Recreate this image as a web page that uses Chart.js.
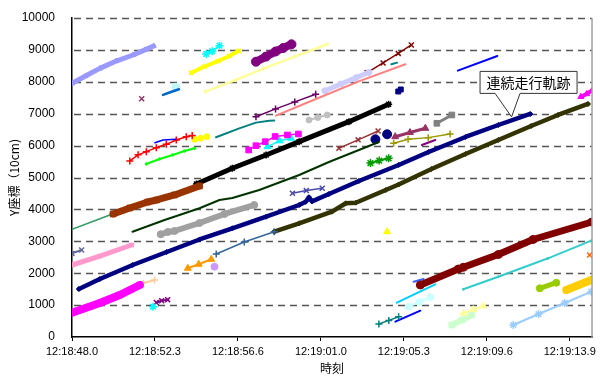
<!DOCTYPE html>
<html><head><meta charset="utf-8">
<script src="https://cdn.jsdelivr.net/npm/chart.js@4"></script>
<style>html,body{margin:0;padding:0;background:#fff}#wrap{width:600px;height:378px}</style>
</head><body><div id="wrap"><canvas id="c" width="600" height="378"></canvas></div>
<script>
// Time axis: seconds after 12:18:48.0
const xTickStep = 4.32;
const xTickLabels = ['12:18:48.0','12:18:52.3','12:18:56.6','12:19:01.0','12:19:05.3','12:19:09.6','12:19:13.9'];
const xMax = 27.08;
const yMax = 10000, yStep = 1000;

// Track points as [seconds, Y (10cm)]
const periwinkleTri = [[0,7950],[0.7,8180],[1.45,8420],[2.3,8650],[3.18,8840],[3.8,9000],[4.25,9120]];
const mauveX1 = [[3.63,7470]];
const blueDash1 = [[4.74,7590],[5.15,7680],[5.57,7765]];
const paleCyanDot1 = [[5.41,7830]];
const blueLine1 = [[4.32,6090],[4.74,6176],[5.4,6200]];
const redPlus = [[3.01,5520],[3.44,5710],[3.87,5810],[4.39,5935],[4.91,6040],[5.43,6176],[5.95,6280],[6.26,6320]];
const greenLine = [[3.87,5425],[4.56,5580],[5.24,5706],[5.86,5830],[6.38,5915]];
const yellowX = [[6.21,8283],[6.9,8480],[7.6,8650],[8.2,8810],[8.68,8970]];
const yellowDots = [[6.38,6196],[6.7,6230],[7.02,6280]];
const cyanStarTop = [[6.99,8872],[7.3,8960],[7.68,9132]];
const purpleDots = [[9.58,8630],[10.1,8790],[10.6,8950],[11.0,9060],[11.43,9175]];
const paleYellowLine = [[6.95,7690],[8.5,8050],[10.0,8420],[11.6,8790],[13.29,9176]];
const tealLine1 = [[7.5,6260],[8.71,6540],[9.58,6720],[10.27,6780],[10.53,6785]];
const darkPurplePlus = [[9.58,6906],[10.6,7150],[11.6,7370],[12.69,7608]];
const salmonLine = [[10.62,6938],[12.86,7500],[15.0,8030],[17.36,8550]];
const lavenderDots = [[13.17,7721],[14.0,7930],[14.8,8130],[15.46,8298]];
const maroonXTop = [[15.37,8285],[16.2,8590],[16.99,8890],[17.67,9154]];
const tealDash2 = [[16.63,8549],[16.93,8600]];
const navySquares = [[16.99,7696],[17.12,7759]];
const blueLineTop = [[20.09,8349],[22.15,8810]];
const magentaTriTop = [[26.5,7530],[26.8,7620],[27.1,7740]];
const navyMain = [[0.36,1505],[1.45,1818],[3.16,2257],[4.93,2665],[6.64,3057],[8.35,3408],[10.11,3771],[11.83,4138],[12.17,4240],[12.34,4380],[12.5,4250],[13.38,4483],[14.94,4891],[17.01,5392],[18.57,5800],[20.49,6270],[22.2,6646],[23.86,6991]];
const steelPlus = [[7.51,2602],[8.97,2978],[10.53,3301]];
const oliveMain = [[10.53,3301],[11.83,3564],[13.54,3928],[14.26,4192],[14.78,4210],[16.34,4608],[17.01,4781],[18.72,5267],[20.49,5737],[22.2,6176],[23.91,6615],[25.31,6960],[26.87,7305]];
const blackStar = [[6.48,4797],[8.35,5289],[10.11,5706],[11.83,6123],[14.42,6750],[16.49,7295]];
const brownSq = [[2.14,3856],[3.01,4044],[3.94,4232],[4.41,4295],[5.34,4452],[6.64,4734]];
const darkGreenLine = [[3.15,3301],[4.82,3668],[6.64,4035],[7.68,4295],[8.35,4358],[9.75,4608],[11.83,5079],[13.38,5486],[15.98,6113]];
const grayDots = [[4.62,3220],[4.99,3292],[5.34,3323],[6.64,3574],[7.94,3856],[9.49,4138]];
const pinkX = [[0,2257],[1.45,2539],[3.1,2884]];
const slateX = [[0,2620],[0.5,2727]];
const seaGreenLine = [[0,3376],[1.97,3825]];
const magentaSq = [[0,762],[1.45,1066],[2.49,1317],[3.53,1630]];
const peachPlus = [[3.7,1683],[4.3,1787]];
const cyanStarLow = [[4.22,950]];
const purpleXLow = [[4.39,1080],[4.67,1140],[4.98,1170]];
const orangeTri = [[6.03,2154],[6.6,2280],[7.25,2436]];
const lilacDot = [[7.42,2204]];
const yellowTriLone = [[16.41,3301]];
const magentaSqUpper = [[9.2,5862],[9.58,5997],[10.06,6123],[10.58,6286],[11.22,6333],[11.79,6364]];
const cyanTri = [[10.18,5966],[10.8,6150],[11.4,6229]];
const silverDots = [[12.34,6803],[12.8,6880],[13.29,6960]];
const redXMid = [[13.9,5916],[14.9,6180],[15.94,6458]];
const navyDots = [[15.8,6198],[16.41,6355]];
const greenStars = [[15.54,5454],[16.0,5530],[16.49,5602]];
const indigoX = [[11.48,4505],[12.2,4590],[13.03,4662]];
const mauveTri = [[16.83,6279],[17.6,6410],[18.4,6543]];
const olivePlus = [[16.75,6072],[17.5,6200],[18.55,6250],[19.69,6364]];
const purpleDash = [[18.22,6019],[18.92,6176]];
const graySq = [[19.0,6699],[19.78,6960]];
const maroonDots = [[18.14,1630],[20.12,2132],[20.38,2185],[22.2,2586],[24.01,3057],[27.07,3605]];
const aquaLine = [[20.38,1495],[22.2,1890],[24.79,2467],[27.04,3019]];
const orangeXLone = [[26.95,2571]];
const limeDots = [[24.36,1527],[25.22,1702]];
const goldSq = [[25.74,1473],[27.04,1787]];
const skyStars = [[22.98,376],[24.3,720],[25.66,1066],[27.04,1420]];
const paleYellowTri = [[20.38,743],[20.9,860],[21.42,972]];
const paleGreenSq = [[19.78,376],[20.3,530],[20.81,690]];
const tealPlusLow = [[15.98,408],[16.5,520],[17.01,636]];
const blueLineLow = [[16.84,480],[18.14,825]];
const iceDots = [[17.53,950],[18.1,1100],[18.66,1245]];
const skyLine = [[16.92,1075],[17.9,1360],[18.92,1652]];
const royalDash = [[17.79,1734],[18.31,1818]];

// Callout on the continuous track
const calloutText = '連続走行軌跡';
const calloutTip = [22.89, 6900];

// [data, colour, line width, marker, marker radius]
const series = [
  [periwinkleTri,'#9999FF',5,'triangle',3],
  [mauveX1,'#993366',0,'crossRot',3.5],
  [blueDash1,'#0066CC',2.5,'circle',0],
  [paleCyanDot1,'#BFF7F7',0,'circle',4],
  [blueLine1,'#0000FF',1.5,'circle',0],
  [redPlus,'#FF0000',1.5,'cross',3.5],
  [greenLine,'#00FF00',2,'circle',1.2],
  [yellowX,'#FFFF00',4,'crossRot',3],
  [yellowDots,'#FFFF00',1.5,'circle',3],
  [cyanStarTop,'#00FFFF',2,'star',4],
  [purpleDots,'#800080',8,'circle',4.5],
  [paleYellowLine,'#FFFF99',2.5,'circle',1.5],
  [tealLine1,'#008080',2,'circle',0],
  [darkPurplePlus,'#660066',1.5,'cross',3.5],
  [salmonLine,'#FF8080',2,'circle',0],
  [lavenderDots,'#CCCCFF',5,'circle',3],
  [maroonXTop,'#800000',1.5,'crossRot',3.5],
  [tealDash2,'#008080',2,'circle',0],
  [navySquares,'#000080',0,'rect',3.5],
  [blueLineTop,'#0000FF',2,'circle',0],
  [magentaTriTop,'#FF00FF',4,'triangle',3.5],
  [steelPlus,'#336699',1.5,'cross',3.5],
  [darkGreenLine,'#003300',2,'circle',0],
  [grayDots,'#A0A0A0',6,'circle',3.5],
  [brownSq,'#993300',7,'rect',4],
  [blackStar,'#000000',5,'star',3.5],
  [navyMain,'#000080',4.5,'rectRot',2.5],
  [oliveMain,'#333300',4.5,'rectRot',2.5],
  [pinkX,'#FF99CC',5,'crossRot',3],
  [slateX,'#666699',2,'crossRot',3.5],
  [seaGreenLine,'#339966',1.5,'circle',0],
  [magentaSq,'#FF00FF',8,'rect',4],
  [peachPlus,'#FFCC99',2,'cross',3.5],
  [cyanStarLow,'#00FFFF',0,'star',4],
  [purpleXLow,'#800080',2,'crossRot',3.5],
  [orangeTri,'#FF9900',2,'triangle',4],
  [lilacDot,'#CC99FF',0,'circle',3.5],
  [yellowTriLone,'#FFFF00',0,'triangle',4],
  [magentaSqUpper,'#FF00FF',1.5,'rect',4],
  [cyanTri,'#00FFFF',1.5,'triangle',4],
  [silverDots,'#C0C0C0',2,'circle',3],
  [redXMid,'#993333',1.5,'crossRot',3.5],
  [navyDots,'#000080',0,'circle',4.5],
  [greenStars,'#009900',2,'star',4],
  [indigoX,'#4B4BA8',1.5,'crossRot',3.5],
  [mauveTri,'#993366',3,'triangle',4],
  [olivePlus,'#999900',1.5,'cross',3.5],
  [purpleDash,'#800080',2,'circle',0],
  [graySq,'#808080',3,'rect',4],
  [maroonDots,'#800000',7,'circle',4],
  [aquaLine,'#33CCCC',2,'circle',1],
  [orangeXLone,'#FF6600',0,'crossRot',3.5],
  [limeDots,'#99CC00',5,'circle',3.5],
  [goldSq,'#FFCC00',8,'rect',4],
  [skyStars,'#99CCFF',2,'star',4],
  [paleYellowTri,'#FFFF99',2,'triangle',4],
  [paleGreenSq,'#CCFFCC',6,'rect',4],
  [tealPlusLow,'#008080',1.5,'cross',3.5],
  [blueLineLow,'#0000FF',2,'circle',0],
  [iceDots,'#CCFFFF',2,'circle',3.5],
  [skyLine,'#00CCFF',2,'circle',0],
  [royalDash,'#3366FF',2,'circle',0]
];

const datasets = series.map(([pts, color, lw, marker, r]) => ({
  data: pts.map(([x, y]) => ({x, y})),
  showLine: lw > 0,
  borderColor: color,
  backgroundColor: color,
  borderWidth: lw,
  borderCapStyle: 'round',
  borderJoinStyle: 'round',
  pointStyle: marker,
  pointRadius: r,
  pointBorderWidth: (marker === 'cross' || marker === 'crossRot' || marker === 'star') ? 1.5 : 1,
  pointBorderColor: color,
  pointBackgroundColor: color,
  clip: true
}));

const frame = {
  id: 'frame',
  beforeDatasetsDraw(chart) {
    // dashed horizontal gridlines
    const {ctx, chartArea: a, scales: {y}} = chart;
    ctx.save();
    ctx.strokeStyle = '#555555';
    ctx.lineWidth = 1.3;
    ctx.setLineDash([7, 5]);
    for (let v = yStep; v <= yMax; v += yStep) {
      const py = Math.round(y.getPixelForValue(v)) + 0.5;
      ctx.beginPath();
      ctx.moveTo(a.left + 2, py);
      ctx.lineTo(a.right, py);
      ctx.stroke();
    }
    ctx.restore();
  },
  afterDatasetsDraw(chart) {
    const {ctx, chartArea: a, scales: {x, y}} = chart;
    ctx.save();
    // right border of the plot
    ctx.strokeStyle = '#A0A0A0';
    ctx.lineWidth = 1.5;
    ctx.beginPath();
    ctx.moveTo(a.right, a.top);
    ctx.lineTo(a.right, a.bottom);
    ctx.stroke();
    // callout box with pointer
    const tx = x.getPixelForValue(calloutTip[0]);
    const ty = y.getPixelForValue(calloutTip[1]);
    const bl = tx - 32, br = tx + 65, bt = ty - 46, bb = ty - 24;
    ctx.fillStyle = '#FFFFFF';
    ctx.strokeStyle = '#333333';
    ctx.lineWidth = 1;
    ctx.beginPath();
    ctx.moveTo(bl + 0.5, bt + 0.5);
    ctx.lineTo(br + 0.5, bt + 0.5);
    ctx.lineTo(br + 0.5, bb + 0.5);
    ctx.lineTo(tx + 8.5, bb + 0.5);
    ctx.lineTo(tx, ty);
    ctx.lineTo(tx - 16.5, bb + 0.5);
    ctx.lineTo(bl + 0.5, bb + 0.5);
    ctx.closePath();
    ctx.fill();
    ctx.stroke();
    ctx.fillStyle = '#000000';
    ctx.font = '14px "Noto Sans CJK JP", sans-serif';
    ctx.textAlign = 'center';
    ctx.textBaseline = 'middle';
    ctx.fillText(calloutText, (bl + br) / 2 + 0.5, (bt + bb) / 2 + 1);
    ctx.restore();
  }
};

new Chart(document.getElementById('c'), {
  type: 'scatter',
  data: {datasets},
  plugins: [frame],
  options: {
    responsive: false,
    animation: false,
    devicePixelRatio: 1,
    layout: {padding: {left: 0, top: 18, right: 6, bottom: 0}},
    plugins: {legend: {display: false}, tooltip: {enabled: false}},
    scales: {
      x: {
        type: 'linear',
        min: 0,
        max: xMax,
        afterFit(s) { s.height = 41; },
        afterBuildTicks(s) { s.ticks = xTickLabels.map((_, i) => ({value: i * xTickStep})); },
        ticks: {
          autoSkip: false,
          maxRotation: 0,
          padding: 4,
          color: '#000',
          font: {family: '"Liberation Sans", Arial, sans-serif', size: 11},
          callback: (v, i) => xTickLabels[i]
        },
        grid: {drawOnChartArea: false, drawTicks: true, tickLength: 4, color: '#000', lineWidth: 1},
        border: {display: true, color: '#000', width: 1.5},
        title: {display: true, text: '時刻', color: '#000', padding: {top: 0, bottom: 2},
          font: {family: '"Noto Sans CJK JP", sans-serif', size: 12}}
      },
      y: {
        min: 0,
        max: yMax,
        afterFit(s) { s.width = 72; },
        ticks: {
          stepSize: yStep,
          padding: 9,
          color: '#000',
          font: {family: '"Liberation Sans", Arial, sans-serif', size: 12},
          callback: v => String(v)
        },
        grid: {display: false},
        border: {display: true, color: '#000', width: 1.5},
        title: {display: true, text: 'Y座標（10cm)', color: '#000', padding: {top: 7, bottom: 0},
          font: {family: '"Noto Sans CJK JP", sans-serif', size: 12}}
      }
    }
  }
});
</script>
</body></html>
